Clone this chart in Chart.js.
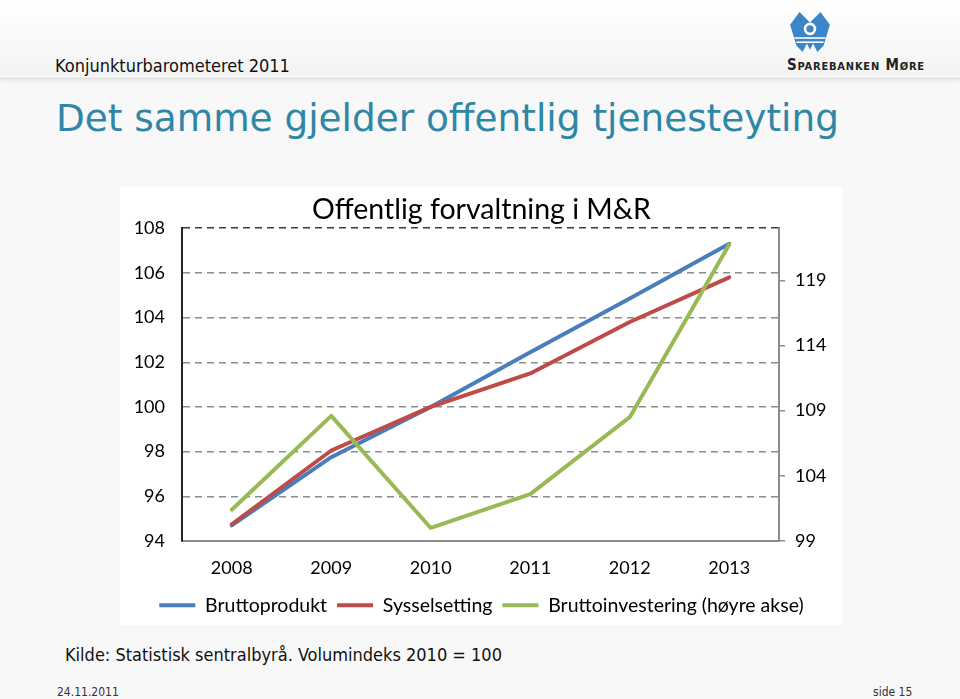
<!DOCTYPE html>
<html>
<head>
<meta charset="utf-8">
<script src="https://cdn.jsdelivr.net/npm/chart.js@4.4.1/dist/chart.umd.min.js"></script>
<style>
  html, body { margin: 0; padding: 0; }
  body {
    width: 960px; height: 699px; position: relative; overflow: hidden;
    background: #f8f8f8; font-family: "DejaVu Sans", Verdana, sans-serif;
  }
  #header {
    position: absolute; left: 0; top: 0; width: 960px; height: 78px;
    background: linear-gradient(#ffffff, #f3f3f3);
    border-bottom: 1px solid #e0e0e0;
    box-shadow: 0 2px 4px rgba(0, 0, 0, 0.08);
  }
  #report {
    position: absolute; left: 55px; top: 55px; font-size: 18px; line-height: 22px;
    font-family: "DejaVu Sans Condensed", "DejaVu Sans", sans-serif; color: #111;
  }
  #bank {
    position: absolute; left: 787px; top: 56px; font-size: 15px; line-height: 18px;
    font-weight: bold; font-variant: small-caps; letter-spacing: 0.8px;
    font-family: "DejaVu Sans Condensed", "DejaVu Sans", sans-serif; color: #222;
  }
  #logo { position: absolute; left: 788px; top: 10px; }
  #title {
    position: absolute; left: 56px; top: 96px; font-size: 37.4px; line-height: 44px;
    color: #2f86a6; white-space: nowrap;
  }
  #box {
    position: absolute; left: 120px; top: 187px; width: 723px; height: 438px; background: #fff;
  }
  #source {
    position: absolute; left: 65px; top: 644px; font-size: 18px; line-height: 22px;
    font-family: "DejaVu Sans Condensed", "DejaVu Sans", sans-serif; color: #111;
  }
  .foot {
    position: absolute; top: 685px; font-size: 12px; line-height: 14px;
    font-family: "DejaVu Sans Condensed", "DejaVu Sans", sans-serif; color: #333;
  }
</style>
</head>
<body>
<div id="header"></div>
<div id="report">Konjunkturbarometeret 2011</div>
<svg id="logo" width="44" height="44" viewBox="0 0 42 42">
  <path d="M2 14 L11 2 L21 12 L31 2 L40 14 L34 34 L28 40 L24 32 L21 38 L18 32 L14 40 L8 34 Z" fill="#3a86c8"/>
  <circle cx="21" cy="18" r="6" fill="#fff"/>
  <circle cx="21" cy="18" r="3.5" fill="#3a86c8"/>
  <rect x="6" y="26" width="30" height="1.5" fill="#fff"/>
  <rect x="8" y="30" width="26" height="1.5" fill="#fff"/>
</svg>
<div id="bank">Sparebanken Møre</div>
<div id="title">Det samme gjelder offentlig tjenesteyting</div>
<div id="box"><canvas id="chart" width="723" height="438"></canvas></div>
<div id="source">Kilde: Statistisk sentralbyrå. Volumindeks 2010 = 100</div>
<div class="foot" style="left:57px">24.11.2011</div>
<div class="foot" style="left:873px">side 15</div>

<script>
window.addEventListener('load', initialize);

// values
const years = ['2008', '2009', '2010', '2011', '2012', '2013'];
const bruttoprodukt = [94.7, 97.75, 100.0, 102.45, 104.85, 107.3];
const sysselsetting = [94.75, 98.05, 100.0, 101.5, 103.8, 105.8];
const bruttoinvestering = [101.4, 108.6, 100.0, 102.6, 108.5, 121.75];
const rightTicks = [99, 104, 109, 114, 119];

const chartFont = 'Lato, "Open Sans", sans-serif';

function initialize() {
    const ctx = document.getElementById('chart').getContext('2d');
    new Chart(ctx, {
        type: 'line',
        data: {
            labels: years,
            datasets: [{
                label: 'Bruttoprodukt',
                data: bruttoprodukt,
                borderColor: '#4a7ebb',
                borderWidth: 4,
                yAxisID: 'y',
                order: 2
            }, {
                label: 'Sysselsetting',
                data: sysselsetting,
                borderColor: '#be4b48',
                borderWidth: 4,
                yAxisID: 'y',
                order: 1
            }, {
                label: 'Bruttoinvestering (høyre akse)',
                data: bruttoinvestering,
                borderColor: '#98b954',
                borderWidth: 4,
                yAxisID: 'y1',
                order: 0
            }]
        },
        options: {
            responsive: false,
            animation: false,
            elements: {
                line: { tension: 0, borderCapStyle: 'round', borderJoinStyle: 'round', fill: false },
                point: { radius: 0, hoverRadius: 0 }
            },
            plugins: {
                title: {
                    display: true,
                    text: 'Offentlig forvaltning i M&R',
                    color: '#000',
                    font: { family: chartFont, size: 28.5, weight: 'normal' },
                    padding: { top: 6, bottom: 1 }
                },
                legend: {
                    position: 'bottom',
                    labels: {
                        usePointStyle: true,
                        pointStyle: 'line',
                        pointStyleWidth: 36,
                        color: '#000',
                        padding: 10,
                        font: { family: chartFont, size: 19.5 },
                        sort: (a, b) => a.datasetIndex - b.datasetIndex
                    }
                },
                tooltip: { enabled: false }
            },
            scales: {
                x: {
                    offset: true,
                    grid: { display: false, drawTicks: false },
                    border: { color: '#8c8c8c', width: 2 },
                    ticks: { color: '#000', padding: 16, font: { family: chartFont, size: 18 } },
                    afterFit: scale => { scale.height = 44.5; }
                },
                y: {
                    position: 'left',
                    min: 94,
                    max: 108,
                    ticks: { stepSize: 2, color: '#000', padding: 17, font: { family: chartFont, size: 18 } },
                    grid: {
                        drawTicks: false,
                        lineWidth: 1.5,
                        color: c => c.tick.value === 108 ? '#3a3a3a' : (c.tick.value === 94 ? 'rgba(0,0,0,0)' : '#8c8c8c')
                    },
                    border: { color: '#262626', width: 2, dash: [7, 5] },
                    afterFit: scale => { scale.width = 62; }
                },
                y1: {
                    position: 'right',
                    min: 99,
                    max: 123,
                    afterBuildTicks: scale => { scale.ticks = rightTicks.map(v => ({ value: v })); },
                    ticks: { color: '#000', padding: 10, font: { family: chartFont, size: 18 } },
                    grid: { drawOnChartArea: false, drawTicks: true, tickLength: 6, color: '#8c8c8c', lineWidth: 1.5 },
                    border: { color: '#8c8c8c', width: 2 },
                    afterFit: scale => { scale.width = 64; }
                }
            }
        }
    });
}
</script>
</body>
</html>
